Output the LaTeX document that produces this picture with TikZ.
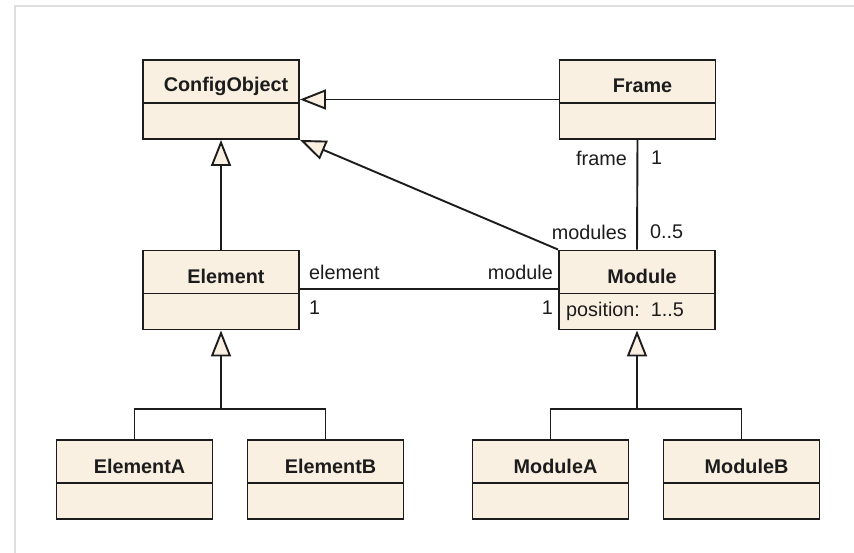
\documentclass[tikz,border=0pt]{standalone}
\usepackage{fontspec}
\setmainfont{Liberation Sans}
\usetikzlibrary{arrows.meta}
\definecolor{cream}{HTML}{FAF0E2}
\definecolor{ink}{HTML}{1C1C1C}
\definecolor{frameg}{HTML}{DEDEDE}
\tikzset{
  cls/.style={draw=ink, fill=cream, line width=1.9pt, minimum width=156pt, minimum height=79pt, inner sep=0pt},
  ttl/.style={font=\fontsize{19.8}{23}\selectfont\bfseries, text=ink, inner sep=0pt},
  lbl/.style={font=\fontsize{19.8}{23}\selectfont, text=ink, inner sep=0pt},
  conn/.style={draw=ink, line width=1.9pt},
  inh/.style={conn, -{Triangle[length=26pt, width=20pt, fill=cream]}},
}
\newcommand{\umlclass}[3]{%
  \node[cls] (#1) at (#2) {};
  \draw[ink, line width=1.7pt] ([yshift=-3.5pt]#1.west) -- ([yshift=-3.5pt]#1.east);
  \node[ttl] (#1-t) at ([xshift=5pt, yshift=13.5pt]#1.center) {#3};
}
\begin{document}
\begin{tikzpicture}[x=1pt, y=-1pt]
\useasboundingbox (0,0) rectangle (854,553);
\draw[frameg, line width=1.5pt] (15,553) -- (15,6) -- (854,6);

\umlclass{co}{221,99.5}{ConfigObject}
\umlclass{fr}{637.5,99.5}{Frame}
\umlclass{el}{221,290}{Element}
\umlclass{mo}{637,290}{Module}
\umlclass{ea}{134.5,479.5}{ElementA}
\umlclass{eb}{325.5,479.5}{ElementB}
\umlclass{ma}{550.5,479.5}{ModuleA}
\umlclass{mb}{741.5,479.5}{ModuleB}

\node[lbl, anchor=west] (pos) at (566,311) {position:\ \ 1..5};

% inheritance
\draw[inh] (fr.west) -- (co.east);
\draw[inh] (mo.north west) -- (co.south east);
\draw[inh] (el.north) -- (co.south);

\coordinate (je) at (221,409);
\coordinate (jm) at (637,409);
\draw[conn] (ea.north) |- (je) -| (eb.north);
\draw[inh] (je) -- (el.south);
\draw[conn] (ma.north) |- (jm) -| (mb.north);
\draw[inh] (jm) -- (mo.south);

% associations
\draw[conn] (fr.south) -- (mo.north);
\draw[conn] ([yshift=1pt]el.east) -- ([yshift=1pt]mo.west);

\node[lbl, anchor=east] (lframe) at (627,158) {frame};
\node[lbl, anchor=west] (lfr1) at (651,158) {1};
\node[lbl, anchor=east] (lmods) at (627,232) {modules};
\node[lbl, anchor=west] (lm05) at (650,232) {0..5};
\node[lbl, anchor=west] (lelem) at (309,272) {element};
\node[lbl, anchor=east] (lmod) at (553,272) {module};
\node[lbl, anchor=west] (lel1) at (309,308) {1};
\node[lbl, anchor=east] (lmo1) at (553,308) {1};
\end{tikzpicture}
\end{document}
